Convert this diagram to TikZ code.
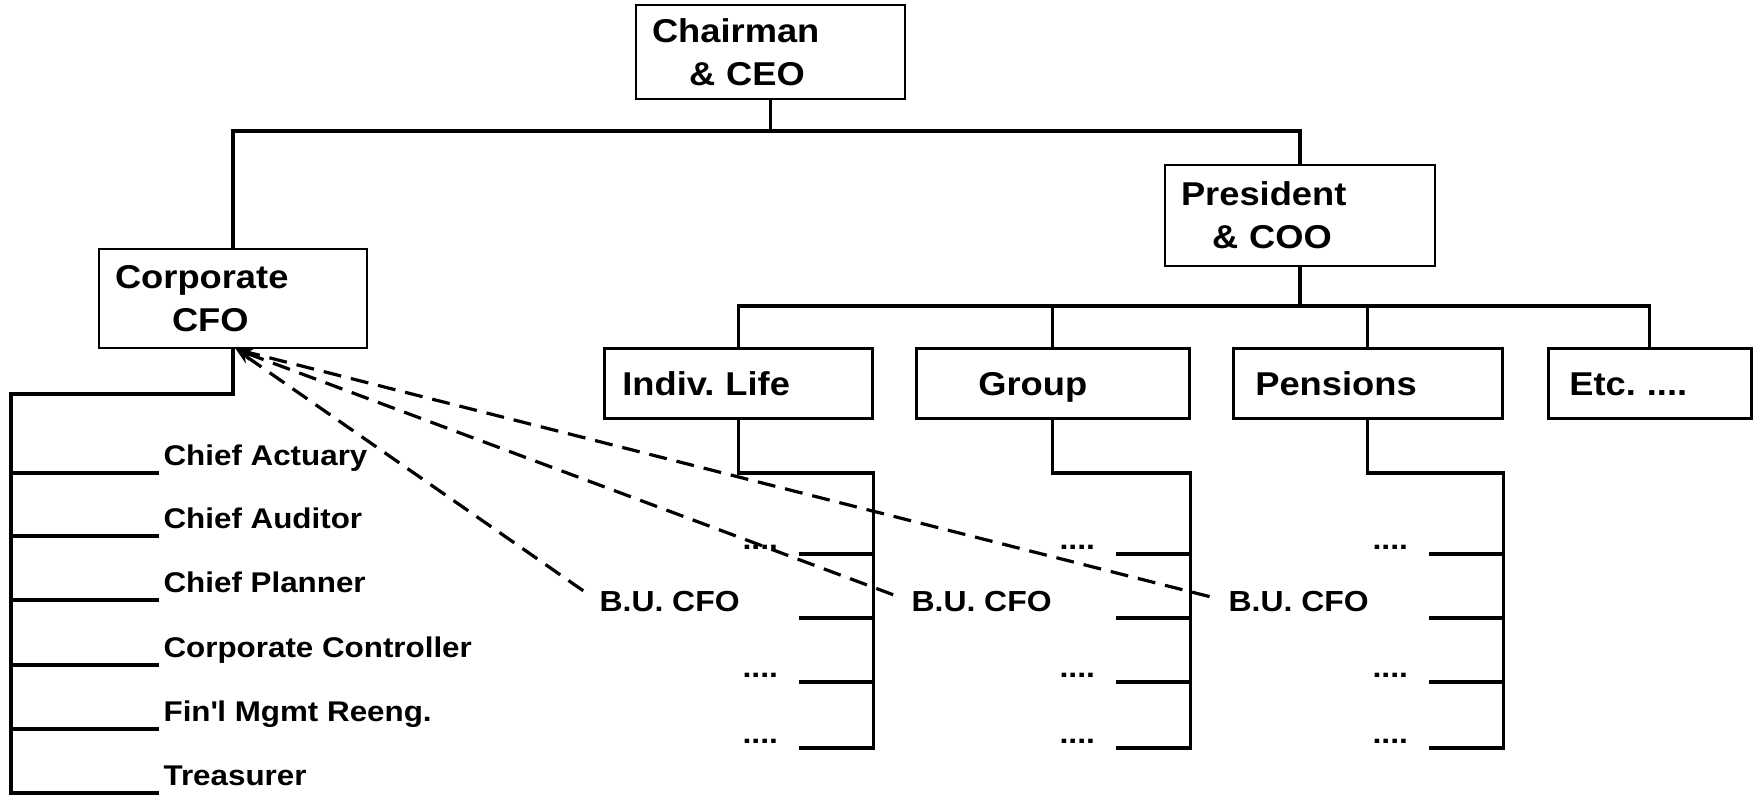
\documentclass[tikz,border=0pt]{standalone}
\usepackage{fontspec}
\setmainfont[FakeStretch=1.1]{Liberation Sans}
\usetikzlibrary{arrows.meta,calc}
\frenchspacing

\begin{document}
\begin{tikzpicture}[x=1pt, y=-1pt, line width=3.2pt,
  box/.style={draw, line width=2.6pt, inner xsep=16pt, inner ysep=0pt, align=left,
    font=\bfseries\fontsize{33}{43}\selectfont},
  unit/.style={draw, line width=2.6pt, anchor=west, inner xsep=18pt, inner ysep=0pt, align=left,
    minimum height=70pt, text height=24pt, text depth=0pt, font=\bfseries\fontsize{33}{40}\selectfont},
  item/.style={anchor=base west, inner sep=0pt, font=\bfseries\fontsize{28.5}{34}\selectfont},
  bu/.style={anchor=base west, inner sep=0pt, font=\bfseries\fontsize{29}{34}\selectfont},
  dots/.style={anchor=base east, inner sep=0pt, font=\bfseries\fontsize{29}{34}\selectfont},
  link/.style={dash pattern=on 18pt off 10pt, -{Stealth[length=16pt,width=12pt]}, shorten <=18pt}]

\useasboundingbox (0,0) rectangle (1756,796);

% levels of the tree
\coordinate (top) at (0,131);
\coordinate (mid) at (0,306);
\coordinate (sub) at (0,394);
\coordinate (brk) at (0,473);
\coordinate (spine) at (11,394);

\node[box, text width=237pt, minimum height=94pt] (ceo) at (770.5,52) {Chairman\\\hspace*{37pt}\& CEO};
\node[box, text width=236pt, minimum height=99pt] (cfo) at (233,298.5) {Corporate\\\hspace*{57pt}CFO};
\node[box, text width=238pt, minimum height=101pt] (pres) at (1300,215.5) {President\\\hspace*{31pt}\& COO};

\node[unit, text width=232pt] (life) at (603,383.5) {Indiv. Life};
\node[unit, text width=237pt] (group) at (915,383.5) {\hspace*{44pt}Group};
\node[unit, text width=233pt] (pens) at (1232,383.5) {\hspace*{4pt}Pensions};
\node[unit, text width=167pt] (etc) at (1547,383.5) {\hspace*{3pt}Etc. ....};

\draw (ceo.south) -- (ceo.south |- top);
\draw (cfo.north) -- (cfo.north |- top) -| (pres.north);
\draw (pres.south) -- (pres.south |- mid);
\draw (life.north) -- (life.north |- mid) -| (etc.north);
\draw (group.north) -- (group.north |- mid);
\draw (pens.north) -- (pens.north |- mid);

% staff under the corporate CFO
\draw (cfo.south) -- (cfo.south |- sub) -- (spine) -- ++(0,401);
\foreach \y/\n/\t in {473/act/Chief Actuary, 536/aud/Chief Auditor, 600/plan/Chief Planner,
    665/ctrl/Corporate Controller, 729/reeng/Fin\textquotesingle l Mgmt Reeng., 793/treas/Treasurer} {
  \node[item] (\n) at (162,\y-8) {\t};
  \draw ($(spine |- \n.base)+(0,8)$) -- ($(\n.base west)+(-3,8)$);
}

% business units
\foreach \u in {life,group,pens} {
  \draw (\u.south) -- (\u.south |- brk) -| ($(\u.east |- brk)+(0,275)$) -- ++(-75,0);
  \foreach \d in {81,145,209}
    \draw ($(\u.east |- brk)+(0,\d)$) -- ++(-75,0);
  \node[dots] (\u-d1) at ($(\u.east |- brk)+(-94,76)$) {....};
  \node[bu] (\u-bu) at ($(\u.west |- brk)+(-5,138)$) {B.U. CFO};
  \node[dots] (\u-d3) at ($(\u.east |- brk)+(-94,204)$) {....};
  \node[dots] (\u-d4) at ($(\u.east |- brk)+(-94,270)$) {....};
  \draw[link] (\u-bu.west) -- ($(cfo.south)+(3,0)$);
}

\end{tikzpicture}
\end{document}
